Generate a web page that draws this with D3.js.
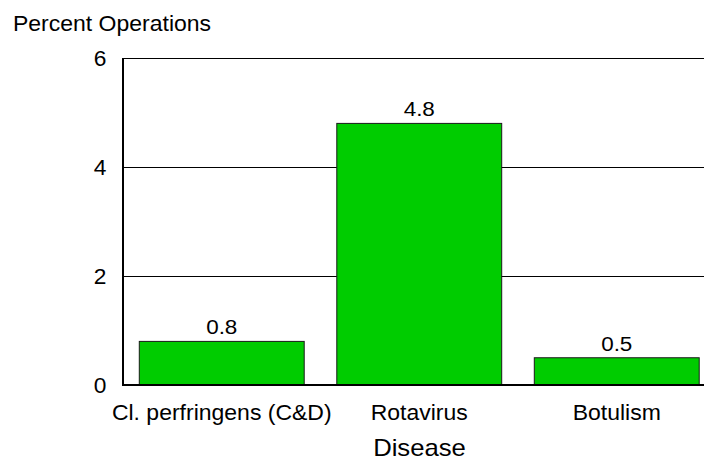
<!DOCTYPE html>
<html>
<head>
<meta charset="utf-8">
<script src="https://cdn.jsdelivr.net/npm/d3@7"></script>
<style>
  body { margin: 0; background: #fff; }
  svg { font-family: "Liberation Sans", Arial, sans-serif; }
</style>
</head>
<body>
<svg id="chart" width="704" height="459"></svg>
<script>
// data
var diseases = ["Cl. perfringens (C&D)", "Rotavirus", "Botulism"]
var percents = [0.8, 4.8, 0.5]
var yTicks = [0, 2, 4, 6]

var plotLeft = 123, plotTop = 58, plotBottom = 385
var plotRight = 715.5
var stretch = 1.07 // text in the picture looks a bit wider than tall

var svg = d3.select("#chart")

var x = d3.scaleBand()
    .domain(diseases)
    .range([plotLeft, plotRight])
    .paddingInner(0.165)
    .paddingOuter(0.0825)

var y = d3.scaleLinear()
    .domain([0, 6])
    .range([plotBottom, plotTop])

/* put a text at (tx, ty) with the horizontal stretch */
function place(tx, ty) {
    return "translate(" + tx + "," + ty + ") scale(" + stretch + ",1)"
}

/* gridlines */
svg.append("g")
    .selectAll("line")
    .data(yTicks.filter(function(d) { return d > 0 }))
    .enter()
    .append("line")
    .attr("x1", plotLeft)
    .attr("x2", 704)
    .attr("y1", function(d) { return Math.round(y(d)) + 0.5 })
    .attr("y2", function(d) { return Math.round(y(d)) + 0.5 })
    .attr("stroke", "#000")
    .attr("stroke-width", 1)

/* bars */
svg.append("g")
    .selectAll("rect")
    .data(percents)
    .enter()
    .append("rect")
    .attr("x", function(d, i) { return x(diseases[i]) })
    .attr("y", function(d) { return y(d) })
    .attr("width", x.bandwidth())
    .attr("height", function(d) { return plotBottom - y(d) })
    .attr("fill", "#00cc00")
    .attr("stroke", "#1a1a1a")
    .attr("stroke-width", 1)

/* value labels */
svg.append("g")
    .selectAll("text")
    .data(percents)
    .enter()
    .append("text")
    .attr("transform", function(d, i) { return place(x(diseases[i]) + x.bandwidth() / 2, y(d) - 7) })
    .attr("text-anchor", "middle")
    .attr("font-size", 21)
    .text(function(d) { return d.toFixed(1) })

/* axes lines */
svg.append("line")
    .attr("x1", plotLeft).attr("x2", plotLeft)
    .attr("y1", plotTop).attr("y2", plotBottom)
    .attr("stroke", "#000").attr("stroke-width", 2)
svg.append("line")
    .attr("x1", plotLeft - 1).attr("x2", 704)
    .attr("y1", plotBottom).attr("y2", plotBottom)
    .attr("stroke", "#000").attr("stroke-width", 2)

/* y tick labels */
svg.append("g")
    .selectAll("text")
    .data(yTicks)
    .enter()
    .append("text")
    .attr("transform", function(d) { return place(106.5, y(d) + 7.5) })
    .attr("text-anchor", "end")
    .attr("font-size", 21.3)
    .text(function(d) { return d })

/* category labels */
svg.append("g")
    .selectAll("text")
    .data(diseases)
    .enter()
    .append("text")
    .attr("transform", function(d) { return place(x(d) + x.bandwidth() / 2, 419.5) })
    .attr("text-anchor", "middle")
    .attr("font-size", 21.5)
    .text(function(d) { return d })

/* titles */
svg.append("text")
    .attr("transform", place(13, 31))
    .attr("font-size", 21.5)
    .text("Percent Operations")

svg.append("text")
    .attr("transform", place(419.5, 455.5))
    .attr("text-anchor", "middle")
    .attr("font-size", 24)
    .text("Disease")
</script>
</body>
</html>
